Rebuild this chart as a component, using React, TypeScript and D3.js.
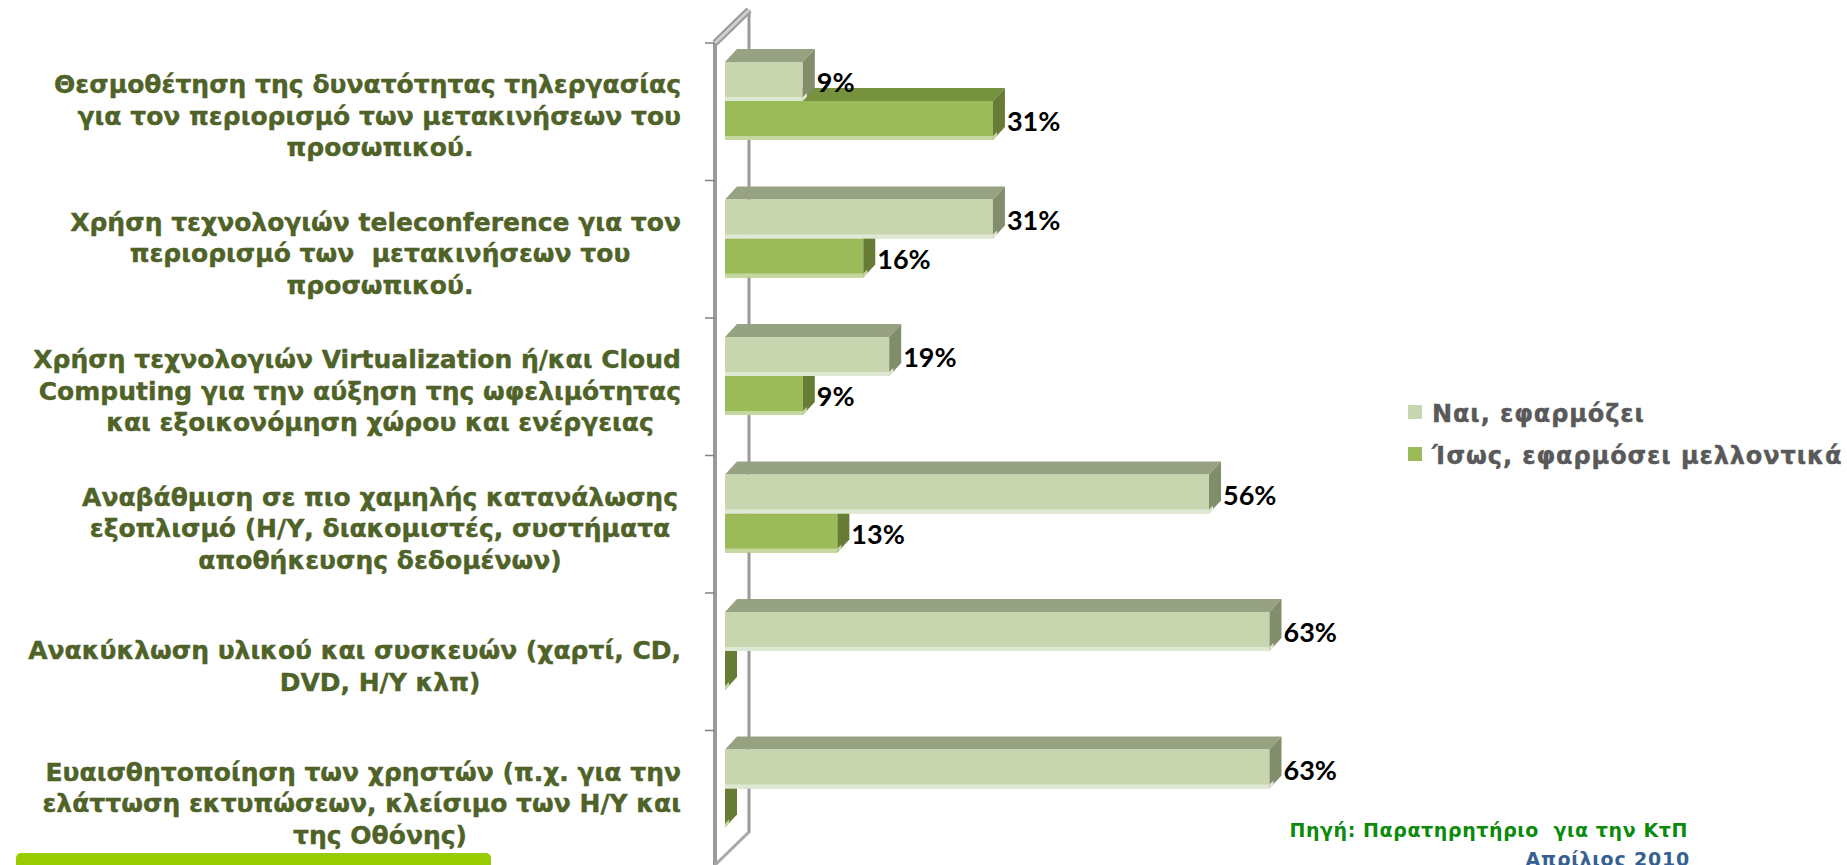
import React, { useEffect, useRef } from "react";
import * as d3 from "d3";

// category labels, one array of lines per category (top to bottom)
const categoryLabels: string[][] = [
  ["Θεσμοθέτηση της δυνατότητας τηλεργασίας", "για τον περιορισμό των μετακινήσεων του", "προσωπικού."],
  ["Χρήση τεχνολογιών teleconference για τον", "περιορισμό των  μετακινήσεων του", "προσωπικού."],
  ["Χρήση τεχνολογιών Virtualization ή/και Cloud", "Computing για την αύξηση της ωφελιμότητας", "και εξοικονόμηση χώρου και ενέργειας"],
  ["Αναβάθμιση σε πιο χαμηλής κατανάλωσης", "εξοπλισμό (Η/Υ, διακομιστές, συστήματα", "αποθήκευσης δεδομένων)"],
  ["Ανακύκλωση υλικού και συσκευών (χαρτί, CD,", "DVD, Η/Υ κλπ)"],
  ["Ευαισθητοποίηση των χρηστών (π.χ. για την", "ελάττωση εκτυπώσεων, κλείσιμο των Η/Υ και", "της Οθόνης)"],
];
const naiValues = [9, 31, 19, 56, 63, 63];
const isosValues = [31, 16, 9, 13, 0, 0];
const seriesNames = ["Ναι, εφαρμόζει", "Ίσως, εφαρμόσει μελλοντικά"];
const sourceLines = ["Πηγή: Παρατηρητήριο  για την ΚτΠ", "Απρίλιος 2010"];

const App = () => {
  const svgRef = useRef<SVGSVGElement>(null);

  useEffect(() => {
    const width = 1847;
    const height = 865;
    const top = 43;
    const band = 137.5;
    const depthX = 12;
    const depthY = 13;

    const svg = d3.select(svgRef.current).attr("width", width).attr("height", height);
    svg.selectAll("*").remove();

    const idx = categoryLabels.map((_, i) => i);

    // category bands
    const y = d3
      .scaleBand<number>()
      .domain(idx)
      .range([top, top + band * idx.length]);

    // series inside a band
    const ySub = d3.scaleBand<string>().domain(["nai", "isos"]).range([19, 97]);

    const x = d3.scaleLinear().domain([0, 70]).range([725, 1330]);

    const colors: Record<string, { front: string; top: string; side: string; light: string }> = {
      nai: { front: "#C7D6AF", top: "#97A283", side: "#818D6B", light: "#DFE8D2" },
      isos: { front: "#9BBB59", top: "#77923E", side: "#677D35", light: "#C4D79E" },
    };

    // back wall edge (drawn before bars)
    svg
      .append("line")
      .attr("x1", 749)
      .attr("x2", 749)
      .attr("y1", 10)
      .attr("y2", 833)
      .attr("stroke", "#999")
      .attr("stroke-width", 3);

    const drawBar = (v: number, y0: number, key: string) => {
      const c = colors[key];
      const x0 = x(0);
      const x1 = x(v);
      const h = ySub.bandwidth();
      const g = svg.append("g");
      if (v > 0) {
        g.append("polygon")
          .attr("points", `${x0},${y0} ${x0 + depthX},${y0 - depthY} ${x1 + depthX},${y0 - depthY} ${x1},${y0}`)
          .attr("fill", c.top);
        g.append("rect")
          .attr("x", x0)
          .attr("y", y0)
          .attr("width", x1 - x0)
          .attr("height", h)
          .attr("fill", c.front);
        g.append("rect")
          .attr("x", x0)
          .attr("y", y0 + h - 4)
          .attr("width", x1 - x0)
          .attr("height", 4)
          .attr("fill", c.light);
      }
      g.append("polygon")
        .attr("points", `${x1},${y0} ${x1 + depthX},${y0 - depthY} ${x1 + depthX},${y0 + h - depthY} ${x1},${y0 + h}`)
        .attr("fill", c.side);
      g.append("polygon")
        .attr("points", `${x1},${y0 + h - 4} ${x1 + 4},${y0 + h - 8} ${x1 + 4},${y0 + h - 4} ${x1},${y0 + h}`)
        .attr("fill", c.light);

      if (v > 0) {
        svg
          .append("text")
          .attr("x", x1 + depthX + 2)
          .attr("y", y0 + h - 9)
          .attr("font-family", "Lato, 'Open Sans', sans-serif")
          .attr("font-weight", 700)
          .attr("font-size", 27)
          .attr("fill", "#000")
          .text(`${v}%`);
      }
    };

    idx.forEach((i) => {
      const b = y(i)!;
      drawBar(isosValues[i], b + ySub("isos")!, "isos");
      drawBar(naiValues[i], b + ySub("nai")!, "nai");
    });

    // side wall front edge + top / bottom edges
    svg
      .append("line")
      .attr("x1", 715)
      .attr("x2", 715)
      .attr("y1", 43)
      .attr("y2", height)
      .attr("stroke", "#9a9a9a")
      .attr("stroke-width", 4);
    svg
      .append("line")
      .attr("x1", 715)
      .attr("y1", 43)
      .attr("x2", 749)
      .attr("y2", 10)
      .attr("stroke", "#9a9a9a")
      .attr("stroke-width", 7);
    svg
      .append("line")
      .attr("x1", 715)
      .attr("y1", 43)
      .attr("x2", 749)
      .attr("y2", 10)
      .attr("stroke", "#d0d0d0")
      .attr("stroke-width", 3);
    svg
      .append("line")
      .attr("x1", 715)
      .attr("y1", 865)
      .attr("x2", 749)
      .attr("y2", 832)
      .attr("stroke", "#a8a8a8")
      .attr("stroke-width", 3);

    // ticks between categories
    svg
      .append("g")
      .selectAll("line")
      .data(d3.range(idx.length + 1))
      .join("line")
      .attr("x1", 705)
      .attr("x2", 715)
      .attr("y1", (d) => top + d * band)
      .attr("y2", (d) => top + d * band)
      .attr("stroke", "#808080")
      .attr("stroke-width", 1.5);

    // category labels
    const lineH = 31.5;
    const boxCenter = 380;
    const boxRight = 681;
    idx.forEach((i) => {
      const lines = categoryLabels[i];
      const yc = y(i)! + band / 2 + 5;
      lines.forEach((ln, k) => {
        const t = svg
          .append("text")
          .attr("y", yc + (k - (lines.length - 1) / 2) * lineH + 8)
          .attr("font-family", "'DejaVu Sans', Verdana, sans-serif")
          .attr("font-weight", 700)
          .attr("font-size", 25)
          .attr("fill", "#4F6228")
          .attr("stroke", "#4F6228")
          .attr("stroke-width", 0.4)
          .attr("text-anchor", "middle")
          .style("white-space", "pre")
          .text(ln);
        const w = (t.node() as SVGTextElement).getComputedTextLength();
        t.attr("x", Math.min(boxCenter, boxRight - w / 2));
      });
    });

    // legend
    const legendColors = [colors.nai.front, colors.isos.front];
    seriesNames.forEach((name, i) => {
      const ly = 422 + i * 42;
      svg
        .append("rect")
        .attr("x", 1408)
        .attr("y", ly - 17)
        .attr("width", 14)
        .attr("height", 14)
        .attr("fill", legendColors[i]);
      svg
        .append("text")
        .attr("x", 1432)
        .attr("y", ly)
        .attr("font-family", "'DejaVu Sans', Verdana, sans-serif")
        .attr("font-weight", 700)
        .attr("font-size", 24)
        .attr("letter-spacing", 0.9)
        .attr("fill", "#595959")
        .attr("stroke", "#595959")
        .attr("stroke-width", 0.4)
        .text(name);
    });

    // source note
    svg
      .append("text")
      .attr("x", 1688)
      .attr("y", 837)
      .attr("text-anchor", "end")
      .attr("font-family", "'DejaVu Sans', Verdana, sans-serif")
      .attr("font-weight", 700)
      .attr("font-size", 19)
      .attr("letter-spacing", 0.6)
      .attr("fill", "#0B8A0B")
      .style("white-space", "pre")
      .text(sourceLines[0]);
    svg
      .append("text")
      .attr("x", 1690)
      .attr("y", 866)
      .attr("text-anchor", "end")
      .attr("font-family", "'DejaVu Sans', Verdana, sans-serif")
      .attr("font-weight", 700)
      .attr("font-size", 19)
      .attr("letter-spacing", 0.8)
      .attr("fill", "#376092")
      .text(sourceLines[1]);

    // green strip bottom-left
    svg
      .append("rect")
      .attr("x", 16)
      .attr("y", 853)
      .attr("width", 475)
      .attr("height", 30)
      .attr("rx", 5)
      .attr("fill", "#99CC00");
  }, []);

  return (
    <div>
      <svg ref={svgRef} style={{ position: "absolute", left: 0, top: 0 }}></svg>
    </div>
  );
};
export default App;
